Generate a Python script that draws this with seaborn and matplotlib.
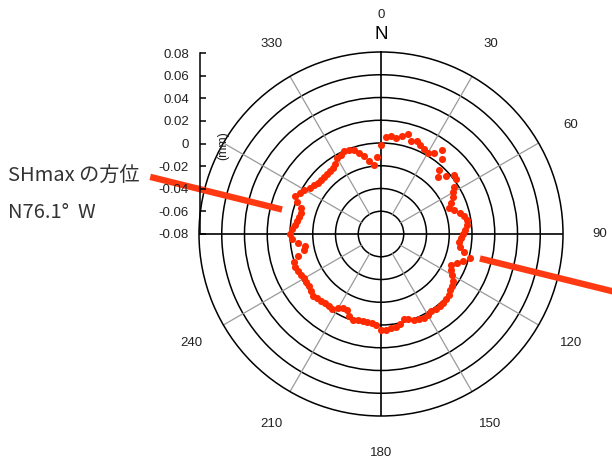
import numpy as np
import matplotlib
matplotlib.use("Agg")
import matplotlib.pyplot as plt
import seaborn as sns
import pandas as pd

# ---- data ----
azimuth_deg = list(range(0, 360, 3))
displacement_mm = [
    -0.0018, 0.0053, 0.0062, 0.0053, 0.0079, 0.0106, 0.0062, 0.0079, 0.0053, 0.0035,
    0.0026, 0.0053, 0.0114, 0.0053, -0.0044, -0.0097, -0.0035, 0.0026, 0.0018, -0.0035,
    -0.0070, -0.0088, -0.0123, -0.0158, -0.0123, -0.0079, -0.0053, -0.0035, -0.0044, -0.0062,
    -0.0079, -0.0097, -0.0114, -0.0097, -0.0053, 0.0009, -0.0044, -0.0088, -0.0123, -0.0105,
    -0.0079, -0.0044, -0.0026, -0.0018, 0.0000, 0.0009, 0.0018, 0.0018, 0.0018, 0.0009,
    0.0018, 0.0026, 0.0018, 0.0009, -0.0018, -0.0026, 0.0009, 0.0026, 0.0035, 0.0044,
    0.0044, 0.0000, -0.0009, -0.0018, -0.0018, -0.0018, -0.0009, -0.0026, -0.0070, -0.0070,
    -0.0044, -0.0009, -0.0018, -0.0018, -0.0009, 0.0000, 0.0009, -0.0009, -0.0018, -0.0018,
    -0.0018, -0.0009, 0.0000, 0.0009, 0.0000, -0.0044, -0.0105, -0.0123, -0.0070, -0.0018,
    0.0000, -0.0018, -0.0044, -0.0053, -0.0062, -0.0070, -0.0062, -0.0009, 0.0026, 0.0000,
    -0.0018, -0.0053, -0.0070, -0.0088, -0.0088, -0.0088, -0.0088, -0.0088, -0.0079, -0.0062,
    -0.0026, -0.0018, 0.0000, -0.0009, -0.0026, -0.0062, -0.0097, -0.0149, -0.0193, -0.0123,
]
angle_labels = ["0", "30", "60", "90", "120", "150", "180", "210", "240", "", "", "330"]
angle_ticks_deg = [0, 30, 60, 90, 120, 150, 180, 210, 240, 270, 300, 330]
radial_ticks = [-0.08, -0.06, -0.04, -0.02, 0, 0.02, 0.04, 0.06, 0.08]
radial_tick_labels = ["-0.08", "-0.06", "-0.04", "-0.02", "0", "0.02", "0.04", "0.06", "0.08"]
shmax_azimuth_deg = 283.9
shmax_text = ["SHmax の方位", "N76.1°  W"]

RMIN, RMAX = -0.08, 0.08
DOT = "#ff2a00"
LINE = "#ff3a12"

sns.set_theme(style="white")
plt.rcParams["font.family"] = ["Liberation Sans", "DejaVu Sans"]

df = pd.DataFrame({"theta": np.deg2rad(azimuth_deg), "r": displacement_mm})

W, H = 612, 459
fig = plt.figure(figsize=(W / 100, H / 100), dpi=100)
fig.patch.set_facecolor("white")

cx, cy, R = 381, 234, 182
ax = fig.add_axes([(cx - R) / W, (H - cy - R) / H, 2 * R / W, 2 * R / H], projection="polar")
ax.set_facecolor("white")
ax.set_theta_zero_location("N")
ax.set_theta_direction(-1)
ax.set_rlim(RMIN, RMAX)

# rings
ax.set_yticks([-0.06, -0.04, -0.02, 0, 0.02, 0.04, 0.06])
ax.set_yticklabels([])
ax.yaxis.grid(True, color="black", lw=1.1)
ax.xaxis.grid(False)
ax.set_xticks(np.deg2rad(angle_ticks_deg))
ax.set_xticklabels([])
ax.tick_params(axis="x", length=0)
ax.spines["polar"].set_color("black")
ax.spines["polar"].set_linewidth(1.1)

# spokes
for a in angle_ticks_deg:
    t = np.deg2rad(a)
    if a % 90 == 0:
        ax.plot([t, t], [RMIN, RMAX], color="black", lw=1.2, zorder=2)
    else:
        ax.plot([t, t], [-0.06, RMAX], color="#9a9a9a", lw=0.9, zorder=2)

# angle labels
for a, lab in zip(angle_ticks_deg, angle_labels):
    if lab:
        ax.text(np.deg2rad(a), 0.1125, lab, ha="center", va="center", fontsize=9.5,
                color="#222222", clip_on=False)
ax.text(0, 0.0955, "N", ha="center", va="center", fontsize=13.5, color="black", clip_on=False)

# data points
sns.scatterplot(data=df, x="theta", y="r", ax=ax, color=DOT, s=26, linewidth=0,
                zorder=4, legend=False, clip_on=False)
ax.set_xlabel("")
ax.set_ylabel("")
ax.set_rlim(RMIN, RMAX)

# SHmax direction line
t1 = np.deg2rad(shmax_azimuth_deg)
t2 = np.deg2rad(shmax_azimuth_deg - 180)
ax.plot([t1, t1], [0.0096, 0.129], color=LINE, lw=4.6, solid_capstyle="butt",
        clip_on=False, zorder=5)
ax.plot([t2, t2], [0.0096, 0.17], color=LINE, lw=4.6, solid_capstyle="butt",
        clip_on=False, zorder=5)

# radial scale on the left
ax2 = fig.add_axes([200 / W, (H - 234) / H, 0.0005, (234 - 53) / H])
ax2.set_facecolor("none")
for s in ["top", "right", "bottom"]:
    ax2.spines[s].set_visible(False)
ax2.spines["left"].set_color("black")
ax2.spines["left"].set_linewidth(1.1)
ax2.set_ylim(RMIN, RMAX)
ax2.set_xticks([])
ax2.set_yticks(radial_ticks)
ax2.set_yticklabels(radial_tick_labels)
ax2.tick_params(axis="y", direction="in", length=4, width=1.1, color="black",
                labelsize=9.5, pad=8, labelcolor="#222222", left=True)
fig.text(223 / W, 1 - 146 / H, "(mm)", rotation=90, ha="center", va="center",
         fontsize=9, color="#222222")

# annotation text
cjk = ["Noto Sans CJK JP", "DejaVu Sans"]
fig.text(8 / W, 1 - 176 / H, shmax_text[0], ha="left", va="center", fontsize=14.5,
         family=cjk, color="#333333")
fig.text(8 / W, 1 - 213 / H, shmax_text[1], ha="left", va="center", fontsize=14.5,
         family=cjk, color="#333333")

fig.savefig("out.png", dpi=100, facecolor="white")
